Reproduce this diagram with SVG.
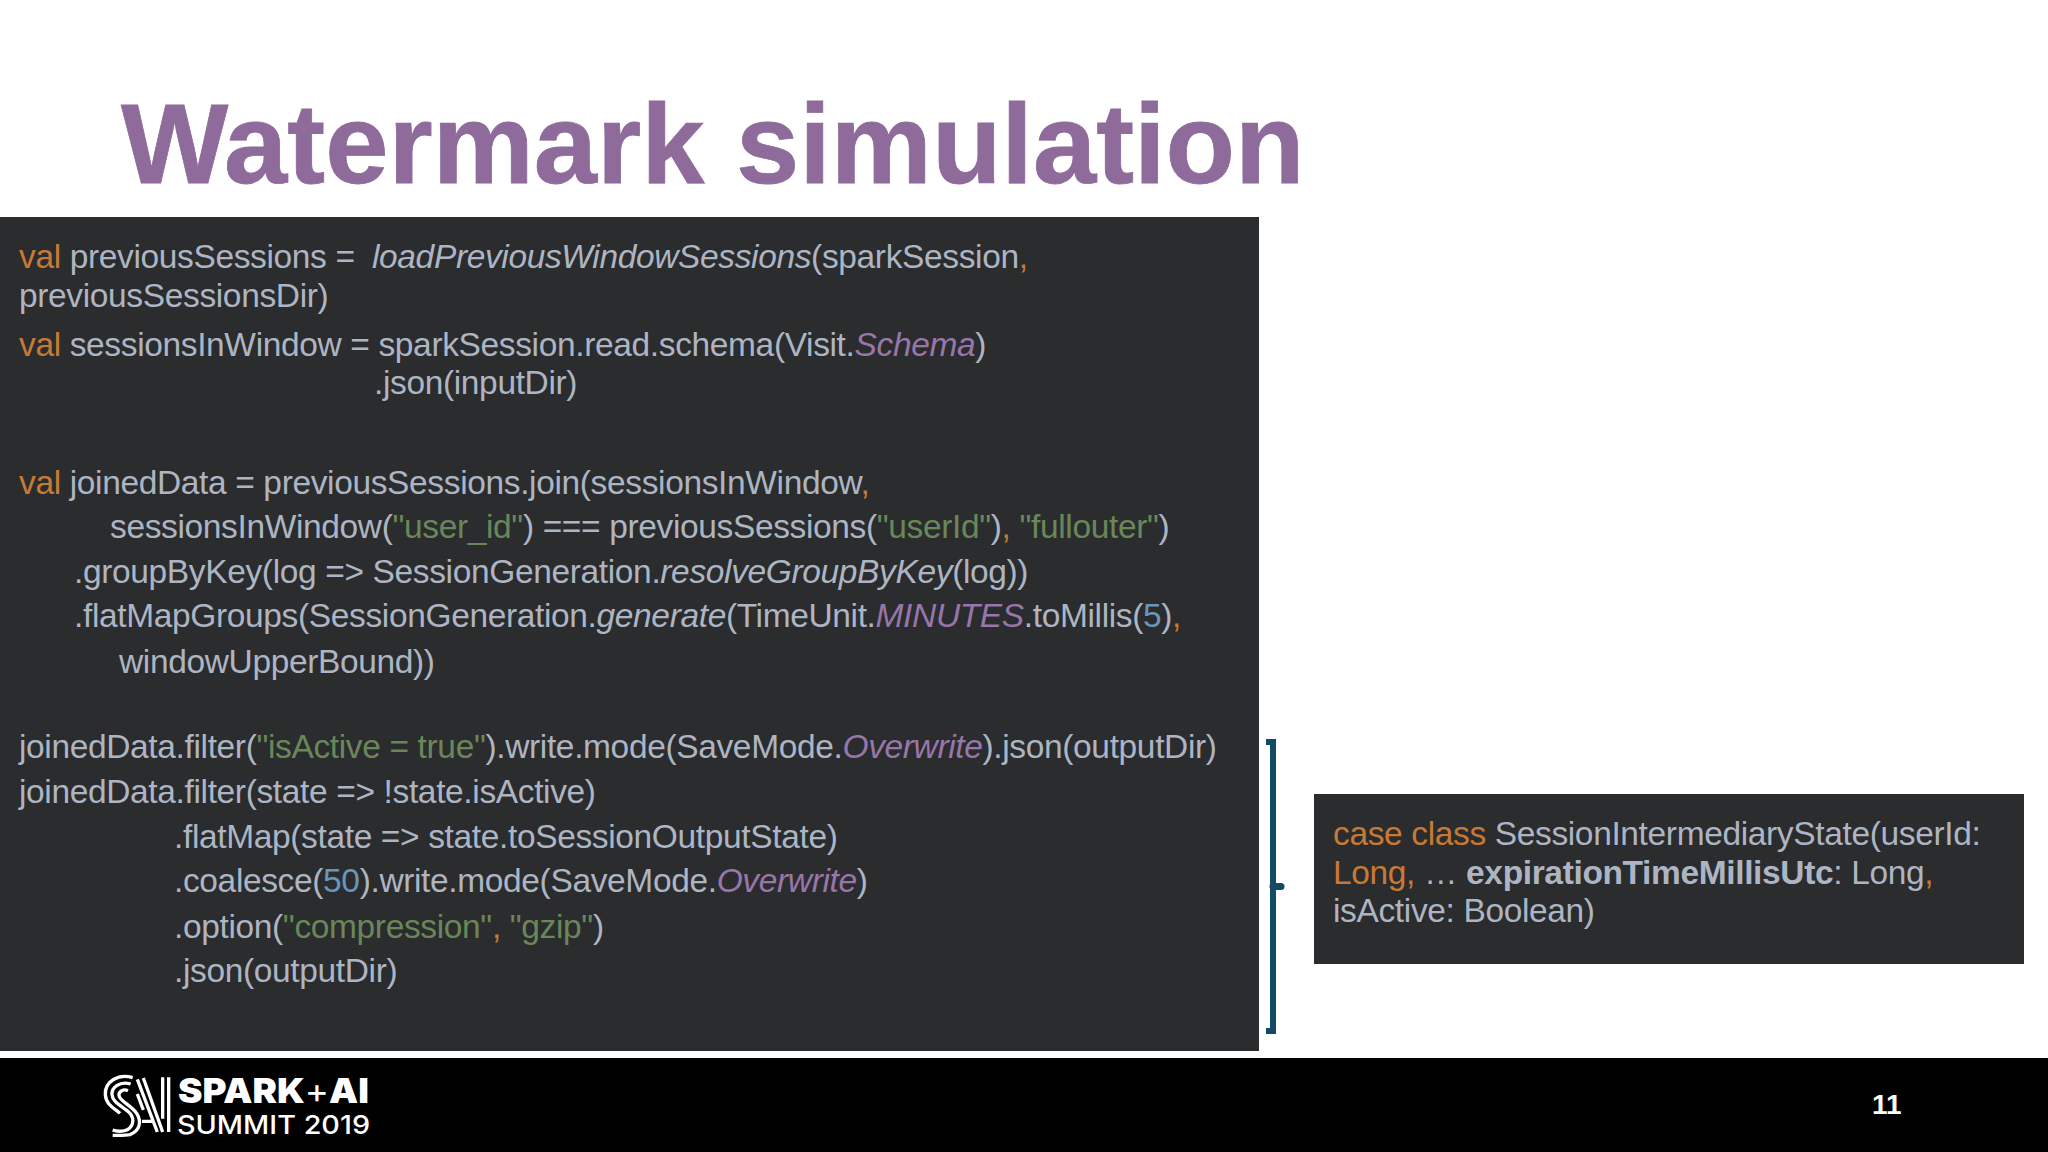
<svg xmlns="http://www.w3.org/2000/svg" width="2048" height="1152" viewBox="0 0 2048 1152">
<style>
.t{font-family:"Liberation Sans",Arial,sans-serif}
.c{font-size:33.5px;fill:#adb5c3;font-family:"Liberation Sans",Arial,sans-serif;letter-spacing:-.36px}
.k{fill:#c67a35}.g{fill:#6a8759}.p{fill:#9876aa}.n{fill:#6897bb}.i{font-style:italic}
.m{fill:none;stroke:#fff;stroke-width:10}
.b{font-family:Inter,sans-serif;fill:#fff}
.panel{fill:#2b2c2e}
</style>
<rect width="2048" height="1152" fill="#fff"/>
<g id="title"><text class="t" x="121" y="183" font-size="113.700" font-weight="700" fill="#8e6b9a" stroke="#8e6b9a" stroke-width=".8">Watermark simulation</text></g>
<g id="code-panel">
<rect class="panel" x="0" y="217" width="1259" height="834"/>
<text class="c" x="19" y="268"><tspan class="k">val</tspan> previousSessions =  <tspan class="i" x="372">loadPreviousWindowSessions</tspan>(sparkSession<tspan class="k">,</tspan></text>
<text class="c" x="19" y="307">previousSessionsDir)</text>
<text class="c" x="19" y="356"><tspan class="k">val</tspan> sessionsInWindow = sparkSession.read.schema(Visit.<tspan class="p i">Schema</tspan>)</text>
<text class="c" x="374" y="394">.json(inputDir)</text>
<text class="c" x="19" y="494"><tspan class="k">val</tspan> joinedData = previousSessions.join(sessionsInWindow<tspan class="k">,</tspan></text>
<text class="c" x="110" y="538">sessionsInWindow(<tspan class="g">"user_id"</tspan>) === previousSessions(<tspan class="g">"userId"</tspan>)<tspan class="k">,</tspan> <tspan class="g">"fullouter"</tspan>)</text>
<text class="c" x="74" y="583">.groupByKey(log =&gt; SessionGeneration.<tspan class="i">resolveGroupByKey</tspan>(log))</text>
<text class="c" x="74" y="627">.flatMapGroups(SessionGeneration.<tspan class="i">generate</tspan>(TimeUnit.<tspan class="p i">MINUTES</tspan>.toMillis(<tspan class="n">5</tspan>)<tspan class="k">,</tspan></text>
<text class="c" x="119" y="673">windowUpperBound))</text>
<text class="c" x="19" y="758">joinedData.filter(<tspan class="g">"isActive = true"</tspan>).write.mode(SaveMode.<tspan class="p i">Overwrite</tspan>).json(outputDir)</text>
<text class="c" x="19" y="803">joinedData.filter(state =&gt; !state.isActive)</text>
<text class="c" x="174" y="848">.flatMap(state =&gt; state.toSessionOutputState)</text>
<text class="c" x="174" y="892">.coalesce(<tspan class="n">50</tspan>).write.mode(SaveMode.<tspan class="p i">Overwrite</tspan>)</text>
<text class="c" x="174" y="938">.option(<tspan class="g">"compression"</tspan><tspan class="k">,</tspan> <tspan class="g">"gzip"</tspan>)</text>
<text class="c" x="174" y="982">.json(outputDir)</text>
</g>
<g id="connectors">
<path d="M1266 742H1273V1031H1266" fill="none" stroke="#134b66" stroke-width="6"/>
<path d="M1273 886.500H1281" stroke="#134b66" stroke-width="7" stroke-linecap="round"/>
</g>
<g id="state-box">
<rect class="panel" x="1314" y="794" width="710" height="170"/>
<text class="c" x="1333" y="845"><tspan class="k">case class</tspan> SessionIntermediaryState(userId:</text>
<text class="c" x="1333" y="884"><tspan class="k">Long,</tspan> … <tspan font-weight="700">expirationTimeMillisUtc</tspan>: Long<tspan class="k">,</tspan></text>
<text class="c" x="1333" y="922">isActive: Boolean)</text>
</g>
<g id="footer">
<rect x="0" y="1058" width="2048" height="94" fill="#000"/>
<g id="logo">
<g transform="translate(98 1068) scale(.3333)">
<path class="m" d="M104 29C62 16 20 40 22 80C24 112 52 122 66 136"/>
<path class="m" d="M98 48C66 38 40 58 42 80C44 106 78 116 96 136C112 156 104 182 80 188C66 191 54 190 44 186"/>
<path class="m" d="M90 68C76 62 62 70 63 82C65 100 98 110 116 136C134 164 122 190 96 200C80 203 62 202 44 202"/>
<path class="m" d="M118 34L178 192M136 30L194 192M118 78L136 126M132 160H166"/>
<path class="m" d="M194 28V152M212 28V192"/>
</g>
<text class="b" x="178" y="1103" font-size="34" font-weight="900" textLength="191" lengthAdjust="spacingAndGlyphs">SPARK<tspan font-weight="400">+</tspan>AI</text>
<text class="b" x="177" y="1134" font-size="25.500" font-weight="500" textLength="193" lengthAdjust="spacingAndGlyphs">SUMMIT 2019</text>
</g>
<text class="t" x="1872" y="1114" font-size="28" font-weight="700" fill="#fff">11</text>
</g>
</svg>
